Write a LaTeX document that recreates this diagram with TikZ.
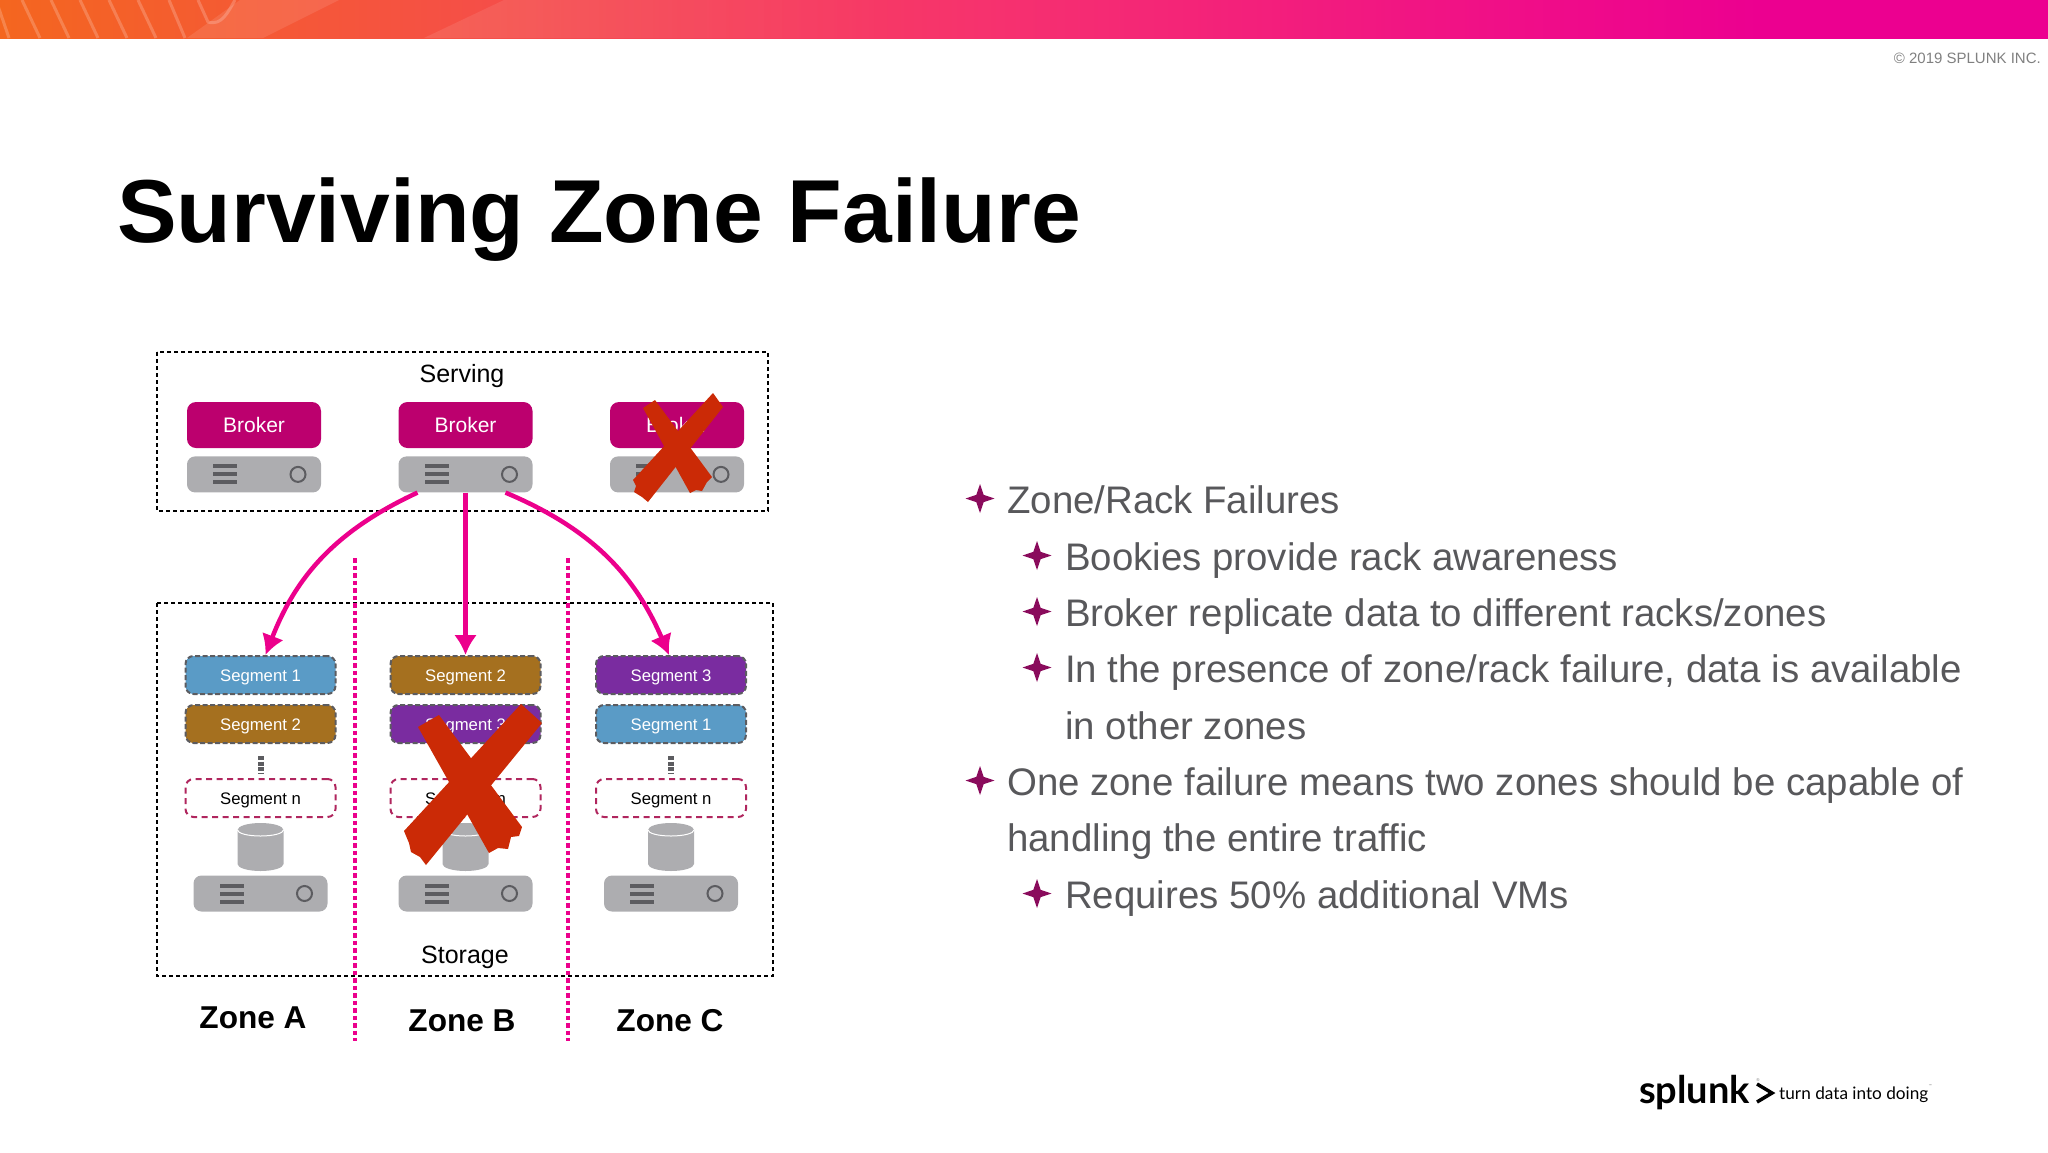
\documentclass[tikz,border=0pt]{standalone}
\usepackage{fontspec}
\setmainfont{Liberation Sans}
\newfontfamily\logofont{Lato}
\usepackage{xcolor}
\usetikzlibrary{shapes,arrows.meta,calc,positioning,fadings}
\definecolor{brokerpink}{HTML}{BC006E}
\definecolor{servergray}{HTML}{ADADB0}
\definecolor{barsgray}{HTML}{5C5C60}
\definecolor{segblue}{HTML}{5A9BC6}
\definecolor{segbrown}{HTML}{A5701F}
\definecolor{segpurple}{HTML}{7A2CA0}
\definecolor{segline}{HTML}{B0265E}
\definecolor{arrowpink}{HTML}{EC008C}
\definecolor{crossred}{HTML}{CB2A06}
\definecolor{bodygray}{HTML}{58585B}
\definecolor{starpurple}{HTML}{8A0B5C}
\pgfdeclarehorizontalshading{topbar}{100bp}{
  rgb(0bp)=(0.957,0.4,0.122);
  rgb(25bp)=(0.957,0.4,0.122);
  rgb(37bp)=(0.961,0.306,0.282);
  rgb(49bp)=(0.965,0.196,0.431);
  rgb(62bp)=(0.941,0.055,0.533);
  rgb(68bp)=(0.925,0,0.565);
  rgb(100bp)=(0.925,0,0.565)}
\tikzset{
  brokerbox/.style={fill=brokerpink, rounded corners=9pt, minimum width=134pt, minimum height=46pt,
    inner sep=0pt, text=white, font=\fontsize{21}{24}\selectfont},
  serverbox/.style={fill=servergray, rounded corners=8pt, minimum width=134pt, minimum height=36pt, inner sep=0pt},
  segbox/.style={draw=barsgray, line width=2pt, dash pattern=on 5pt off 2.5pt, rounded corners=8pt,
    minimum width=150pt, minimum height=38pt, inner sep=0pt, text=white, text height=12pt, text depth=0pt,
    font=\fontsize{16.7}{20}\selectfont},
  segopen/.style={segbox, draw=segline, dash pattern=on 6pt off 4.5pt, text=black},
  zonebox/.style={draw=black, line width=2pt, dash pattern=on 4pt off 3pt},
  zonelabel/.style={font=\bfseries\fontsize{31.6}{36}\selectfont},
  boxlabel/.style={font=\fontsize{25}{30}\selectfont},
  divider/.style={draw=arrowpink, line width=4.5pt, dash pattern=on 4.5pt off 3pt},
  writearrow/.style={->, arrowpink, line width=4.5pt},
  crossmark/.style={fill=crossred},
  textline/.style={anchor=base west, inner sep=0pt, text=bodygray, font=\fontsize{38.4}{44}\selectfont},
  starmark/.style={star, star points=4, star point ratio=2.8, fill=starpurple, inner sep=0pt, minimum size=29pt},
}
\begin{document}
\begin{tikzpicture}[x=1pt, y=-1pt, >={Latex[length=20pt,width=23pt]}]
  \useasboundingbox (0,0) rectangle (2048,1152);

  % top bar
  \shade[shading=topbar] (0,0) rectangle (2048,38);
  \fill[white, fill opacity=0.1] (187,38) -- (240,0) -- (339,0) -- (263,38) -- cycle;
  \fill[white, fill opacity=0.1, path fading=east] (424,38) -- (504,0) -- (900,0) -- (900,38) -- cycle;
  \foreach \tx/\bx in {-4/9, 22/40, 51/69, 80/98, 109/127, 138/156, 169/185}
    \draw[white, opacity=0.2, line width=3pt] (\tx,0) -- (\bx,38);
  \draw[white, opacity=0.2, line width=3pt] (198,0) -- (208,22) .. controls (222,26) and (228,12) .. (235,0);

  \node[anchor=east, inner sep=0pt, text=gray, font=\fontsize{15}{18}\selectfont] (copyright) at (2041,58) {© 2019 SPLUNK INC.};
  \node[anchor=base west, inner sep=0pt, font=\bfseries\fontsize{89.4}{100}\selectfont] (title) at (117,242) {Surviving Zone Failure};

  % dashed frames
  \draw[zonebox] (157,352) rectangle (768,511);
  \draw[zonebox] (157,603) rectangle (773,976);
  \node[boxlabel] (serving) at (462,376) {Serving};
  \node[boxlabel] (storage) at (465,957) {Storage};

  % brokers
  \foreach \zn/\xc in {a/254, b/465.5, c/677} {
    \node[brokerbox] (broker\zn) at (\xc,425) {Broker};
    \node[serverbox, below=8pt of broker\zn] (server\zn) {};
  }

  % segments
  \foreach \zn/\xc/\colone/\coltwo/\numone/\numtwo in {
      a/260.5/segblue/segbrown/1/2,
      b/465.5/segbrown/segpurple/2/3,
      c/671/segpurple/segblue/3/1} {
    \node[segbox, fill=\colone] (seg\zn1) at (\xc,675) {Segment \numone};
    \node[segbox, fill=\coltwo, below=9pt of seg\zn1] (seg\zn2) {Segment \numtwo};
    \node[segopen, below=34pt of seg\zn2] (seg\zn3) {Segment n};
    \draw[barsgray, line width=6pt, dash pattern=on 4pt off 1.5pt] ([yshift=-12pt]seg\zn2.south) -- ([yshift=-29pt]seg\zn2.south);
    % cylinder
    \fill[servergray] (\xc-23,830) -- (\xc-23,864) arc[start angle=180, end angle=360, x radius=23, y radius=-7]
      -- (\xc+23,830) arc[start angle=0, end angle=180, x radius=23, y radius=-7] -- cycle;
    \draw[white, line width=1pt] (\xc-23,830) arc[start angle=180, end angle=360, x radius=23, y radius=-6];
    \node[serverbox] (disk\zn) at (\xc,893.5) {};
  }

  % server details
  \foreach \srv in {servera, serverb, serverc, diska, diskb, diskc} {
    \foreach \dy in {-8,0,8}
      \fill[barsgray] ([xshift=-41pt,yshift=\dy*1pt-2pt]\srv.center) rectangle ([xshift=-17pt,yshift=\dy*1pt+2pt]\srv.center);
    \draw[barsgray, line width=2pt] ([xshift=44pt]\srv.center) circle[radius=7.5pt];
  }

  % zone dividers
  \coordinate (diva) at (355,558);
  \coordinate (divb) at (355,1041);
  \coordinate (divc) at (568,558);
  \coordinate (divd) at (568,1041);
  \draw[divider] (diva) -- (divb);
  \draw[divider] (divc) -- (divd);

  % writes from the broker
  \draw[writearrow, bend right=22] ([xshift=-48pt]serverb.south) to ([xshift=5pt]sega1.north);
  \draw[writearrow] (serverb.south) to (segb1.north);
  \draw[writearrow, bend left=22] ([xshift=40pt]serverb.south) to ([xshift=-2pt]segc1.north);

  % failed broker and failed storage
  \fill[crossmark] (643,408) -- (655,400) -- (712,477) -- (707,482) -- (702,491) -- (696,490) -- (690,493) -- cycle;
  \fill[crossmark] (713,393) -- (723,407) -- (648,502) -- (642,497) -- (634,492) -- (636,486) -- (633,480) -- cycle;
  \fill[crossmark] (418,727) -- (439,715) -- (522,827) -- (519,836) -- (511,837) -- (508,849) -- (498,848) -- (489,853) -- cycle;
  \fill[crossmark] (521,704) -- (542,723) -- (426,865) -- (420,857) -- (411,852) -- (409,843) -- (404,831) -- cycle;

  \node[zonelabel] (zonea) at (253,1018) {Zone A};
  \node[zonelabel] (zoneb) at (462,1021) {Zone B};
  \node[zonelabel] (zonec) at (670,1021) {Zone C};

  % bullet list
  \foreach \nm/\xs/\xt/\yt/\tx in {
      one/980/1007/513/{Zone/Rack Failures},
      two/1037/1065/570/{Bookies provide rack awareness},
      three/1037/1065/626/{Broker replicate data to different racks/zones},
      four/1037/1065/682/{In the presence of zone/rack failure, data is available},
      six/980/1007/795/{One zone failure means two zones should be capable of},
      eight/1037/1065/908/{Requires 50\% additional VMs}} {
    \node[textline] (line\nm) at (\xt,\yt) {\tx};
    \node[starmark] (star\nm) at (\xs,\yt-14.5) {};
  }
  \node[textline] (linefive) at (1065,739) {in other zones};
  \node[textline] (lineseven) at (1007,851) {handling the entire traffic};

  % logo
  \node[anchor=base west, inner sep=0pt, font=\logofont\bfseries\fontsize{38}{40}\selectfont] (splunk) at (1639,1103) {splunk};
  \node[anchor=base west, inner sep=0pt, font=\logofont\fontsize{17.2}{18}\selectfont] (tagline) at (1779,1099) {turn data into doing};
  \node[anchor=center, inner sep=0pt, text=gray, font=\logofont\fontsize{4}{4}\selectfont] (regmark) at (1758,1080) {®};
  \node[anchor=west, inner sep=0pt, text=gray, font=\logofont\fontsize{4}{4}\selectfont] (trademark) at (tagline.north east) {™};
  \draw[black, line width=3.5pt] (1757,1084) -- (1772,1093) -- (1757,1102);
\end{tikzpicture}
\end{document}
